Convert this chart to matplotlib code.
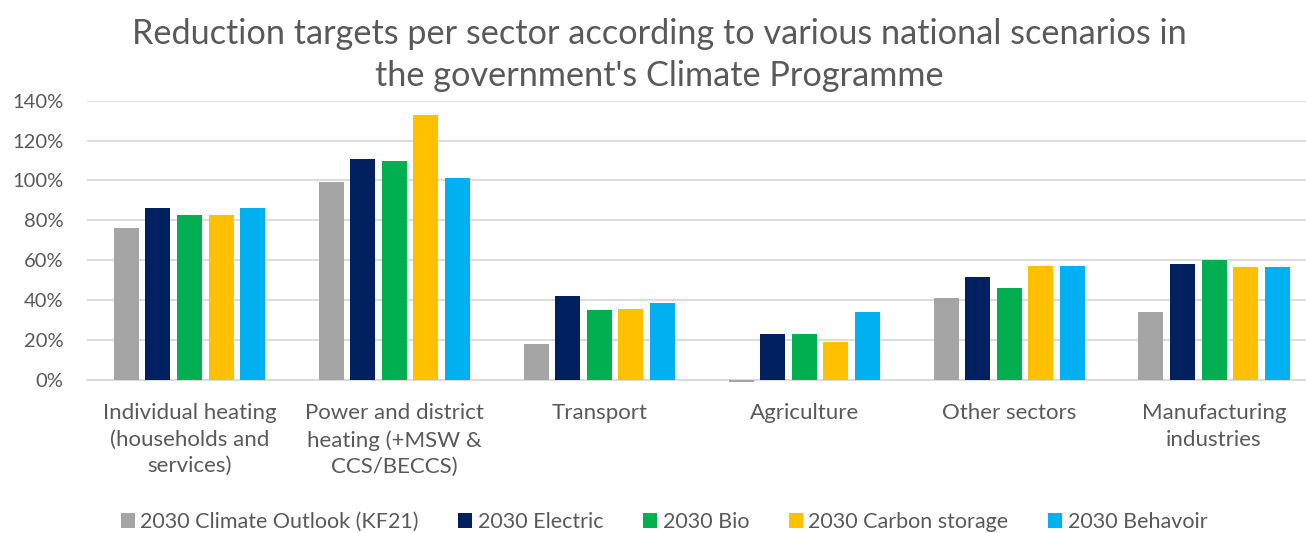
import matplotlib
matplotlib.use("Agg")
import matplotlib.pyplot as plt
import numpy as np
from matplotlib.patches import Patch
from matplotlib.ticker import FuncFormatter

categories = [
    "Individual heating\n(households and\nservices)",
    "Power and district\nheating (+MSW &\nCCS/BECCS)",
    "Transport",
    "Agriculture",
    "Other sectors",
    "Manufacturing\nindustries",
]
series_names = [
    "2030 Climate Outlook (KF21)",
    "2030 Electric",
    "2030 Bio",
    "2030 Carbon storage",
    "2030 Behavoir",
]
climate_outlook = [76, 99, 18, -1, 41, 34]
electric = [86, 110.5, 42, 23, 51.5, 58]
bio = [82.5, 109.5, 35, 23, 46, 60]
carbon_storage = [82.5, 133, 35.5, 19, 57, 56.5]
behavoir = [86, 101, 38.5, 34, 57, 56.5]
colors = ["#A5A5A5", "#002060", "#00B050", "#FFC000", "#00B0F0"]
yticks = [0, 20, 40, 60, 80, 100, 120, 140]

series = [climate_outlook, electric, bio, carbon_storage, behavoir]

plt.rcParams["font.family"] = ["Lato", "DejaVu Sans"]
text_color = "#595959"

W, H = 1306, 533
fig = plt.figure(figsize=(W / 100, H / 100), dpi=100)
left, right, top, bottom = 87, 1316.5, 100.7, 379.7
ax = fig.add_axes([left / W, 1 - bottom / H, (right - left) / W, (bottom - top) / H])

x = np.arange(len(categories))
pitch = 0.154
width = 0.122
for i, (vals, col) in enumerate(zip(series, colors)):
    ax.bar(x + (i - 2) * pitch, vals, width=width, color=col, zorder=3,
           clip_on=False, label=series_names[i])

ax.set_xlim(-0.5, len(categories) - 0.5)
ax.set_ylim(0, 140)
ax.set_yticks(yticks)
ax.yaxis.set_major_formatter(FuncFormatter(lambda v, p: f"{v:.0f}%"))
ax.grid(axis="y", color="#D9D9D9", linewidth=1.3, zorder=0)
ax.set_axisbelow(True)
for s in ["top", "right", "left"]:
    ax.spines[s].set_visible(False)
ax.spines["bottom"].set_color("#D9D9D9")
ax.spines["bottom"].set_linewidth(1.3)
ax.set_xticks(x)
ax.set_xticklabels(categories, fontsize=16, color=text_color, linespacing=1.4)
ax.tick_params(axis="x", length=0, pad=17)
ax.tick_params(axis="y", length=0, pad=17, labelsize=14.5, labelcolor=text_color)

fig.text(659.5 / W, 1 - 55 / H,
         "Reduction targets per sector according to various national scenarios in\n"
         "the government's Climate Programme",
         ha="center", va="center", fontsize=24.7, color=text_color, linespacing=1.38)

handles = [Patch(facecolor=c, edgecolor="none") for c in colors]
fig.legend(handles, series_names, loc="center", bbox_to_anchor=(664 / W, 1 - 522 / H),
           ncol=5, frameon=False, fontsize=15.5, labelcolor=text_color,
           handlelength=0.65, handleheight=0.65, handletextpad=0.25, columnspacing=1.85)

fig.savefig("out.png", dpi=100)
